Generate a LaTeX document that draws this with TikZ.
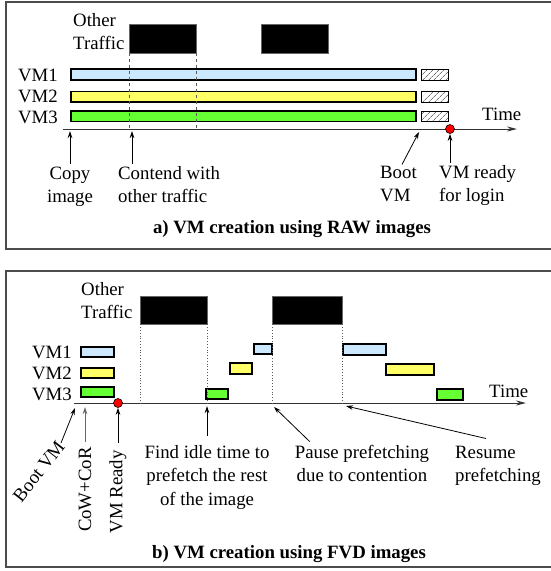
\documentclass[tikz,border=0pt]{standalone}
\usepackage{fontspec}
\setmainfont{Liberation Serif}
\usepackage{xcolor}
\usepackage{tikz}
\usetikzlibrary{arrows.meta, patterns.meta}
\definecolor{vmblue}{HTML}{CCE8FF}
\definecolor{vmyellow}{HTML}{FFFF66}
\definecolor{vmgreen}{HTML}{66FF33}

\begin{document}
\begin{tikzpicture}[x=1pt, y=-1pt,
  lbl/.style={font=\fontsize{18.8}{23.5}\selectfont, inner sep=0pt},
  ttl/.style={font=\fontsize{18.8}{23.5}\selectfont\bfseries, inner sep=0pt},
  panelbox/.style={draw=black!70, line width=1.2pt},
  bar/.style={draw=black, line width=1.3pt},
  hatch/.style={draw=black, line width=0.9pt, pattern={Lines[angle=45, distance=4pt, line width=0.7pt]}, pattern color=black!55},
  traffic/.style={fill=black, draw=black!60, line width=0.4pt, inner sep=0pt, anchor=north west},
  timeaxis/.style={draw=black!80, line width=1pt, -{Stealth[length=10pt, width=5pt]}},
  ann/.style={line width=0.8pt, -{Stealth[length=7pt, width=4.5pt]}},
  guide/.style={black!65, line width=0.7pt, dashed},
  guidedot/.style={black!65, line width=0.8pt, dotted},
  readydot/.style={circle, fill=red, draw=black, line width=0.6pt, minimum size=9pt, inner sep=0pt}]
  \useasboundingbox (0,0) rectangle (551,571);

  % a) RAW images
  \draw[panelbox] (6,2) rectangle (556,249);
  \node[lbl, anchor=base west, align=left] (otha) at (73,49.5) {Other\\Traffic};
  \node[traffic, minimum width=67pt, minimum height=29pt] (ta1) at (129,24) {};
  \node[traffic, minimum width=67pt, minimum height=29pt] (ta2) at (261,24) {};

  \draw[bar, fill=vmblue] (71,69) rectangle (416,80);
  \draw[bar, fill=vmyellow] (71,91.5) rectangle (416,102);
  \draw[bar, fill=vmgreen] (71,111) rectangle (416,121.5);
  \draw[hatch] (421,69) rectangle (448,80);
  \draw[hatch] (421,91.5) rectangle (448,102);
  \draw[hatch] (421,111) rectangle (448,121.5);
  \node[lbl, anchor=base east] (vma1) at (58,81) {VM1};
  \node[lbl, anchor=base east] (vma2) at (58,102.5) {VM2};
  \node[lbl, anchor=base east] (vma3) at (58,123) {VM3};

  \coordinate (axa0) at (63,129);
  \coordinate (axa1) at (517,129);
  \draw[timeaxis] (axa0) -- (axa1);
  \node[lbl, anchor=base west] (timea) at (482,120) {Time};
  \draw[guide] (ta1.south west) -- (ta1.south west |- axa0);
  \draw[guide] (ta1.south east) -- (ta1.south east |- axa0);
  \node[readydot] (rdya) at (450,129) {};

  \node[lbl, anchor=base, align=center] (copy) at (70,202.5) {Copy\\image};
  \node[lbl, anchor=base west, align=left] (contend) at (118,202.5) {Contend with\\other traffic};
  \node[lbl, anchor=base west, align=left] (boota) at (380,201.5) {Boot\\VM};
  \node[lbl, anchor=base west, align=left] (readya) at (439,201.5) {VM ready\\for login};
  \coordinate (pa1) at (70,131);
  \coordinate (pa2) at (132,131);
  \coordinate (pa3) at (419,132);
  \draw[ann] ([yshift=2pt]copy.north) -- (pa1);
  \draw[ann] ([yshift=2pt]contend.north -| pa2) -- (pa2);
  \draw[ann] ([xshift=22pt, yshift=1pt]boota.north west) -- (pa3);
  \draw[ann] ([yshift=2pt]readya.north -| rdya) -- (rdya.south);
  \node[ttl, anchor=base] (tita) at (292,233) {a) VM creation using RAW images};

  % b) FVD images
  \draw[panelbox] (6,271) rectangle (556,567);
  \node[lbl, anchor=base west, align=left] (othb) at (81,318.5) {Other\\Traffic};
  \node[traffic, minimum width=67pt, minimum height=28pt] (tb1) at (140,296) {};
  \node[traffic, minimum width=70pt, minimum height=28pt] (tb2) at (272,296) {};

  \draw[bar, fill=vmblue] (81,347) rectangle (114,357);
  \draw[bar, fill=vmyellow] (81,368) rectangle (114,378);
  \draw[bar, fill=vmgreen] (81,387) rectangle (114,397);
  \draw[bar, fill=vmgreen] (206,389) rectangle (228,399);
  \draw[bar, fill=vmyellow] (230,363) rectangle (252,374);
  \draw[bar, fill=vmblue] (254,344) rectangle (272,354);
  \draw[bar, fill=vmblue] (343,344) rectangle (386,355);
  \draw[bar, fill=vmyellow] (386,364) rectangle (434,375);
  \draw[bar, fill=vmgreen] (437,389) rectangle (463,400);
  \node[lbl, anchor=base east] (vmb1) at (72,358) {VM1};
  \node[lbl, anchor=base east] (vmb2) at (72,379) {VM2};
  \node[lbl, anchor=base east] (vmb3) at (72,400) {VM3};

  \coordinate (axb0) at (74,403);
  \coordinate (axb1) at (526,403);
  \draw[timeaxis] (axb0) -- (axb1);
  \node[lbl, anchor=base west] (timeb) at (489,397) {Time};
  \draw[guidedot] (tb1.south west) -- (tb1.south west |- axb0);
  \draw[guidedot] (tb1.south east) -- (tb1.south east |- axb0);
  \draw[guidedot] (tb2.south west) -- (tb2.south west |- axb0);
  \draw[guidedot] (tb2.south east) -- (tb2.south east |- axb0);
  \node[readydot] (rdyb) at (118,403) {};

  \node[lbl, rotate=52, anchor=east] (bootb) at (61,443) {Boot VM};
  \node[lbl, rotate=90, anchor=east] (cow) at (85,447) {CoW+CoR};
  \node[lbl, rotate=90, anchor=east] (vmrdy) at (118,450) {VM Ready};
  \node[lbl, anchor=base, align=center] (find) at (207,505) {Find idle time to\\prefetch the rest\\of the image};
  \node[lbl, anchor=base, align=center] (pause) at (362,481.5) {Pause prefetching\\due to contention};
  \node[lbl, anchor=base west, align=left] (resume) at (455,481.5) {Resume\\prefetching};
  \coordinate (pb1) at (75,408);
  \coordinate (pb2) at (85,407);
  \coordinate (pb3) at (207,406);
  \coordinate (pb4) at (274,407);
  \coordinate (pb5) at (346,406);
  \draw[ann] (bootb.east) -- (pb1);
  \draw[ann, black!60] ([yshift=5pt]cow.east) -- (pb2);
  \draw[ann] ([yshift=7pt]vmrdy.east) -- (rdyb.south);
  \draw[ann] ([yshift=9pt]find.north) -- (pb3);
  \draw[ann] ([xshift=15pt, yshift=3pt]pause.north west) -- (pb4);
  \draw[ann] ([xshift=31pt, yshift=7pt]resume.north west) -- (pb5);
  \node[ttl, anchor=base] (titb) at (289,558) {b) VM creation using FVD images};
\end{tikzpicture}
\end{document}
